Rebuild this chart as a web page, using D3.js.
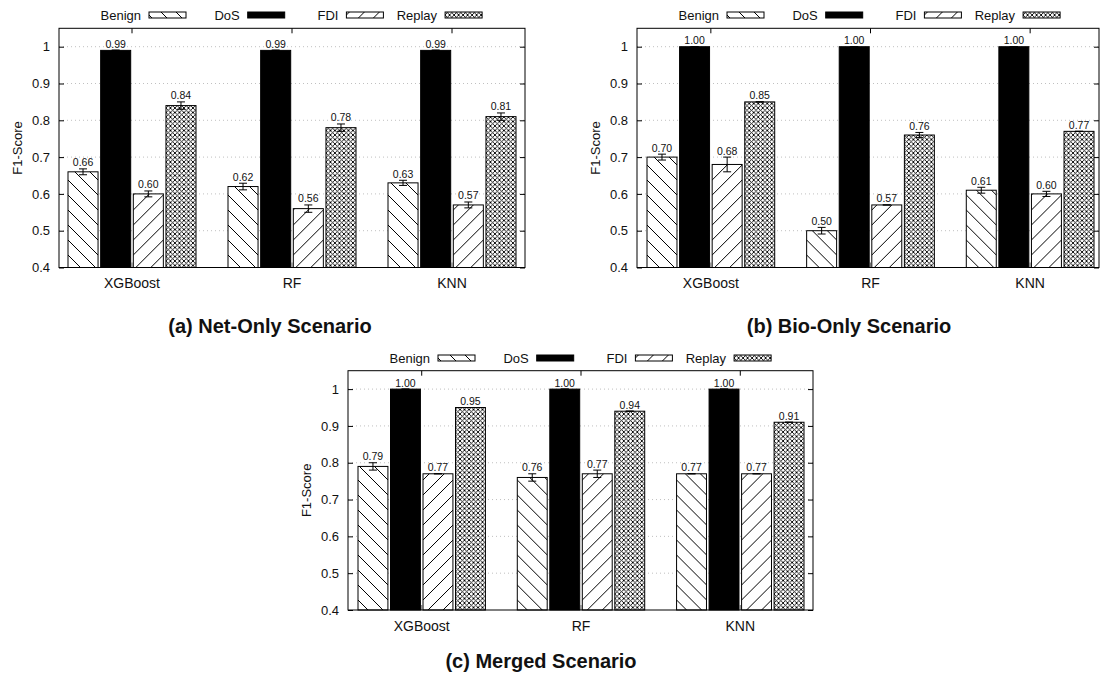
<!DOCTYPE html>
<html>
<head>
<meta charset="utf-8">
<script src="https://cdn.jsdelivr.net/npm/d3@7"></script>
<style>
  body { margin: 0; background: #fff; }
  svg { display: block; font-family: "Liberation Sans", Arial, sans-serif; }
</style>
</head>
<body>
<svg id="chart" width="1100" height="684"></svg>
<script>
// Data
const models = ['XGBoost', 'RF', 'KNN'];
const classes = ['Benign', 'DoS', 'FDI', 'Replay'];
const yTicks = [0.4, 0.5, 0.6, 0.7, 0.8, 0.9, 1.0];

// rows follow `classes`, columns follow `models`
const netF1 = [[0.66, 0.62, 0.63], [0.99, 0.99, 0.99], [0.60, 0.56, 0.57], [0.84, 0.78, 0.81]];
const netErr = [[0.008, 0.009, 0.007], [0.001, 0.001, 0.001], [0.008, 0.01, 0.008], [0.01, 0.01, 0.01]];

const bioF1 = [[0.70, 0.50, 0.61], [1.00, 1.00, 1.00], [0.68, 0.57, 0.60], [0.85, 0.76, 0.77]];
const bioErr = [[0.008, 0.009, 0.008], [0, 0, 0], [0.02, 0, 0.007], [0, 0.007, 0]];

const mergedF1 = [[0.79, 0.76, 0.77], [1.00, 1.00, 1.00], [0.77, 0.77, 0.77], [0.95, 0.94, 0.91]];
const mergedErr = [[0.01, 0.01, 0], [0, 0, 0], [0, 0.01, 0], [0, 0, 0]];

// Layout of the three panels
const panels = [
    {title: '(a) Net-Only Scenario', f1: netF1, err: netErr,
     left: 59, right: 525, top: 28.3, bottom: 267.5, barsLeft: 68, barsRight: 516,
     legendY: 15, titleX: 270, titleY: 333},
    {title: '(b) Bio-Only Scenario', f1: bioF1, err: bioErr,
     left: 637, right: 1099, top: 28.3, bottom: 267.5, barsLeft: 647, barsRight: 1094,
     legendY: 15, titleX: 849, titleY: 333},
    {title: '(c) Merged Scenario', f1: mergedF1, err: mergedErr,
     left: 348, right: 813, top: 370.7, bottom: 610, barsLeft: 358, barsRight: 804,
     legendY: 358, titleX: 541, titleY: 668}
];

const fills = {Benign: 'url(#pat-benign)', DoS: '#000', FDI: 'url(#pat-fdi)', Replay: 'url(#pat-replay)'};
const font = '"Liberation Sans", Arial, sans-serif';

const svg = d3.select('#chart');
const defs = svg.append('defs');

// hatch patterns
function hatch(id, d, size, sw) {
    const p = defs.append('pattern')
        .attr('id', id)
        .attr('patternUnits', 'userSpaceOnUse')
        .attr('width', size).attr('height', size);
    p.append('rect').attr('width', size).attr('height', size).attr('fill', '#fff');
    p.append('path').attr('d', d).attr('stroke', '#000').attr('stroke-width', sw).attr('fill', 'none');
}
const h = 15, q = h / 4;
hatch('pat-benign', `M0,0 L${h},${h} M${-q},${h - q} L${q},${h + q} M${h - q},${-q} L${h + q},${q}`, h, 1);
hatch('pat-fdi', `M0,${h} L${h},0 M${-q},${q} L${q},${-q} M${h - q},${h + q} L${h + q},${h - q}`, h, 1);
hatch('pat-replay', 'M0,0 L4.5,4.5 M4.5,0 L0,4.5', 4.5, 0.9);

function drawPanel(p) {
    const g = svg.append('g');

    const y = d3.scaleLinear().domain([0.4, 1.05]).range([p.bottom, p.top]);

    const step = (p.barsRight - p.barsLeft) / 2.8;
    const x0 = d3.scaleBand()
        .domain(models)
        .range([p.barsLeft - 0.1 * step, p.barsRight + 0.1 * step])
        .paddingInner(0.2)
        .paddingOuter(0.1);
    const x1 = d3.scaleBand()
        .domain(classes)
        .range([0, x0.bandwidth()])
        .paddingInner(0.08);

    // grid
    g.append('g').selectAll('line')
        .data(yTicks.filter(t => t > 0.4))
        .join('line')
        .attr('x1', p.left).attr('x2', p.right)
        .attr('y1', d => y(d)).attr('y2', d => y(d))
        .attr('stroke', '#b0b0b0')
        .attr('stroke-width', 0.8)
        .attr('stroke-dasharray', '1,3');

    // axes
    const leftAxis = g.append('g')
        .attr('transform', `translate(${p.left},0)`)
        .call(d3.axisLeft(y).tickValues(yTicks).tickSize(-5).tickPadding(9)
            .tickFormat(d => d === 1 ? '1' : d3.format('.1f')(d)));
    const rightAxis = g.append('g')
        .attr('transform', `translate(${p.right},0)`)
        .call(d3.axisRight(y).tickValues(yTicks).tickSize(-5).tickFormat(''));
    const topAxis = g.append('g')
        .attr('transform', `translate(0,${p.top})`)
        .call(d3.axisTop(x0).tickSize(-5).tickFormat(''));
    const bottomAxis = g.append('g')
        .attr('transform', `translate(0,${p.bottom})`)
        .call(d3.axisBottom(x0).tickSize(-5).tickPadding(11));

    [leftAxis, rightAxis, topAxis, bottomAxis].forEach(a => {
        a.select('.domain').remove();
        a.selectAll('.tick line').attr('stroke', '#000');
        a.selectAll('text').attr('font-family', font).attr('fill', '#111');
    });
    leftAxis.selectAll('text').attr('font-size', 13);
    bottomAxis.selectAll('text').attr('font-size', 14);
    bottomAxis.selectAll('.tick line').attr('stroke', '#777');

    // bars
    const rows = [];
    classes.forEach((c, ci) => {
        models.forEach((m, mi) => {
            rows.push({cls: c, model: m, value: p.f1[ci][mi], err: p.err[ci][mi]});
        });
    });

    const bars = g.append('g').selectAll('g.bar')
        .data(rows)
        .join('g')
        .attr('class', 'bar')
        .attr('transform', d => `translate(${x0(d.model) + x1(d.cls)},0)`);

    bars.append('rect')
        .attr('x', 0)
        .attr('y', d => y(d.value))
        .attr('width', x1.bandwidth())
        .attr('height', d => y(0.4) - y(d.value))
        .attr('fill', d => fills[d.cls])
        .attr('stroke', '#000')
        .attr('stroke-width', 1);

    // error bars
    const cx = x1.bandwidth() / 2, cap = 4;
    bars.append('path')
        .attr('d', d => {
            const yt = y(d.value + d.err), yb = y(d.value - d.err);
            return `M${cx},${yt} L${cx},${yb} M${cx - cap},${yt} L${cx + cap},${yt} M${cx - cap},${yb} L${cx + cap},${yb}`;
        })
        .attr('stroke', '#000')
        .attr('stroke-width', 1)
        .attr('fill', 'none');

    bars.append('text')
        .attr('x', cx)
        .attr('y', d => y(d.value + d.err) - 2.5)
        .attr('text-anchor', 'middle')
        .attr('font-size', 10.5)
        .attr('fill', '#111')
        .text(d => d3.format('.2f')(d.value));

    // frame
    g.append('rect')
        .attr('x', p.left).attr('y', p.top)
        .attr('width', p.right - p.left).attr('height', p.bottom - p.top)
        .attr('fill', 'none')
        .attr('stroke', '#000')
        .attr('stroke-width', 1);

    // y label
    g.append('text')
        .attr('transform', `translate(${p.left - 37},${(p.top + p.bottom) / 2}) rotate(-90)`)
        .attr('text-anchor', 'middle')
        .attr('font-size', 13)
        .attr('fill', '#111')
        .text('F1-Score');

    // legend
    const legend = g.append('g').selectAll('g')
        .data(classes)
        .join('g')
        .attr('transform', (d, i) => `translate(${p.left + 90 + i * 98.7},${p.legendY})`);
    legend.append('rect')
        .attr('x', 0).attr('y', -3)
        .attr('width', 37).attr('height', 6)
        .attr('fill', d => fills[d])
        .attr('stroke', '#000')
        .attr('stroke-width', 1);
    legend.append('text')
        .attr('x', -8).attr('y', 4.5)
        .attr('text-anchor', 'end')
        .attr('font-size', 13)
        .attr('fill', '#111')
        .text(d => d);

    // caption
    g.append('text')
        .attr('x', p.titleX).attr('y', p.titleY)
        .attr('text-anchor', 'middle')
        .attr('font-size', 20)
        .attr('font-weight', 'bold')
        .attr('fill', '#111')
        .text(p.title);
}

panels.forEach(drawPanel);
</script>
</body>
</html>
